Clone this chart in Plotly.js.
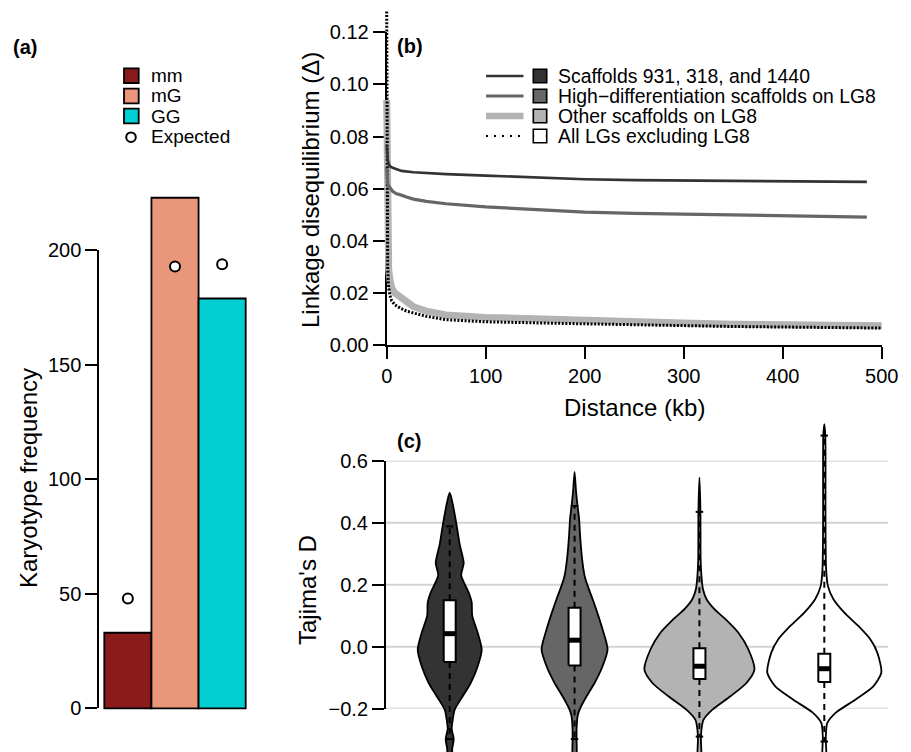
<!DOCTYPE html>
<html><head><meta charset="utf-8">
<script src="https://cdn.plot.ly/plotly-3.0.1.min.js"></script>
<style>html,body{margin:0;padding:0;background:#fff;}#chart{width:911px;height:752px;}</style>
</head><body><div id="chart"></div>
<script>
// ================= DATA =================
// (a) karyotype frequencies
const karyotypes = ['mm', 'mG', 'GG'];
const observedCounts = [33, 223, 179];
const expectedCounts = [48, 193, 194];

// (b) LD decay with distance (kb)
const distScaffolds = [0, 0.5, 1, 2, 3.3, 6, 10, 15, 27, 40, 60, 100, 150, 175, 200, 250, 300, 350, 400, 450, 485];
const ldScaffolds   = [0.077, 0.073, 0.071, 0.0695, 0.0686, 0.068, 0.0674, 0.0668, 0.0663, 0.066, 0.0656, 0.065, 0.0642, 0.0638, 0.0636, 0.0633, 0.0631, 0.0629, 0.0628, 0.0627, 0.0626];
const distHighDiff  = [0, 0.5, 1, 2, 3.3, 6, 10, 13.4, 20, 27, 40, 60, 100, 150, 200, 250, 300, 350, 400, 450, 485];
const ldHighDiff    = [0.068, 0.064, 0.062, 0.061, 0.0603, 0.059, 0.058, 0.0577, 0.0568, 0.056, 0.0551, 0.0542, 0.053, 0.0519, 0.051, 0.0505, 0.0502, 0.0499, 0.0496, 0.0493, 0.0491];
const distOther     = [0, 0.3, 0.6, 1, 1.5, 2, 3.3, 5, 8, 13.4, 20, 27, 40, 60, 100, 175, 250, 300, 350, 400, 450, 500];
const ldOther       = [0.094, 0.07, 0.05, 0.038, 0.032, 0.029, 0.025, 0.022, 0.020, 0.0186, 0.0163, 0.0147, 0.013, 0.0115, 0.0106, 0.0096, 0.0088, 0.0084, 0.008, 0.0078, 0.0076, 0.0074];
const distAllLG     = [0, 0.3, 0.6, 1, 1.5, 2, 3.3, 5, 8, 13.4, 20, 27, 40, 60, 100, 175, 250, 300, 350, 400, 450, 500];
const ldAllLG       = [0.128, 0.08, 0.045, 0.03, 0.025, 0.022, 0.019, 0.017, 0.0155, 0.0142, 0.013, 0.0122, 0.011, 0.0097, 0.0089, 0.0083, 0.0077, 0.0074, 0.0071, 0.0069, 0.0067, 0.0065];
const ldSeriesNames = ['Scaffolds 931, 318, and 1440', 'High\u2212differentiation scaffolds on LG8', 'Other scaffolds on LG8', 'All LGs excluding LG8'];

// (c) Tajima's D: violin outlines (value, relative density) and box statistics
const violin1D = [0.497, 0.456, 0.39, 0.33, 0.27, 0.23, 0.175, 0.143, 0.10, 0.045, -0.01, -0.063, -0.117, -0.16, -0.203, -0.236, -0.265, -0.298, -0.33, -0.37];
const violin1W = [0, 3.3, 7, 10, 14, 11.5, 19, 22, 22.5, 28, 32, 28, 21, 13, 5, 3, 2, 4, 2.5, 2];
const violin2D = [0.564, 0.50, 0.454, 0.413, 0.359, 0.283, 0.229, 0.197, 0.154, 0.110, 0.056, -0.009, -0.063, -0.117, -0.16, -0.203, -0.225, -0.268, -0.30, -0.37];
const violin2W = [0, 1.5, 3, 4.5, 5.5, 7.5, 10, 13, 18, 22.7, 28, 33, 28, 20, 12, 5, 3, 2, 2, 1.5];
const violin3D = [0.545, 0.435, 0.283, 0.229, 0.186, 0.154, 0.121, 0.089, 0.045, -0.009, -0.074, -0.117, -0.16, -0.203, -0.236, -0.268, -0.30, -0.37];
const violin3W = [0, 1, 1.2, 2, 3.5, 7, 15, 26, 39, 49, 55, 47, 31, 13, 4, 2, 1.5, 1.5];
const violin4D = [0.718, 0.681, 0.413, 0.251, 0.197, 0.154, 0.110, 0.067, 0.024, -0.019, -0.084, -0.128, -0.171, -0.214, -0.246, -0.29, -0.37];
const violin4W = [0, 1, 1.2, 1.8, 3.5, 9, 20, 34, 46, 53, 57, 49, 31, 11, 3, 1.5, 1.5];
const boxQ1      = [-0.049, -0.061, -0.104, -0.114];
const boxMedian  = [0.042, 0.021, -0.063, -0.071];
const boxQ3      = [0.150, 0.126, -0.005, -0.023];
const whiskerLow = [-0.298, -0.298, -0.290, -0.306];
const whiskerHigh= [0.388, 0.454, 0.435, 0.681];
const tajimaTicks = [-0.2, 0, 0.2, 0.4, 0.6];

// ================= STYLE / LAYOUT HELPERS =================
const W = 911, H = 752;
const FONT = 'Liberation Sans, Arial, Helvetica, sans-serif';
const px = v => v / W;
const py = v => 1 - v / H;
const xdom = (a, b) => [px(a), px(b)];
const ydom = (top, bottom) => [py(bottom), py(top)];
function extend(pA, pB, rA, rB, qA, qB) { const s = (rB - rA) / (pB - pA); return [rA + (qA - pA) * s, rA + (qB - pA) * s]; }

const barColors = ['#8B1A1A', '#E9967A', '#00CED1'];
const lineColors = ['#333333', '#666666', '#b3b3b3', '#000000'];
const violinFills = ['#333333', '#666666', '#b3b3b3', '#ffffff'];

const frameAxis = {
  showline: true, linecolor: 'black', linewidth: 2, ticks: 'outside', ticklen: 12, tickwidth: 2,
  tickcolor: 'black', tickfont: {family: FONT, size: 20, color: 'black'}, showgrid: false, zeroline: false, fixedrange: true
};
const hidden = {visible: false, fixedrange: true};

// ================= TRACES =================
const traces = [];
traces.push({type: 'scatter', x: [], y: [], xaxis: 'x', yaxis: 'y', hoverinfo: 'skip', showlegend: false});
traces.push({type: 'scatter', x: [], y: [], xaxis: 'x2', yaxis: 'y3', hoverinfo: 'skip', showlegend: false});
traces.push({type: 'scatter', x: [], y: [], xaxis: 'x4', yaxis: 'y5', hoverinfo: 'skip', showlegend: false});

// (a)
traces.push({type: 'bar', x: karyotypes, y: observedCounts, width: 1, xaxis: 'x', yaxis: 'y2',
  marker: {color: barColors, line: {color: 'black', width: 1.8}}, showlegend: false, hoverinfo: 'x+y'});
traces.push({type: 'scatter', mode: 'markers', x: karyotypes, y: expectedCounts, xaxis: 'x', yaxis: 'y2',
  marker: {symbol: 'circle', size: 10, color: 'white', line: {color: 'black', width: 2}}, showlegend: false});

// (b)
const ldSeries = [
  {x: distOther, y: ldOther, c: lineColors[2], w: 7, dash: 'solid', n: ldSeriesNames[2]},
  {x: distAllLG, y: ldAllLG, c: lineColors[3], w: 3, dash: '2px,1.6px', n: ldSeriesNames[3]},
  {x: distHighDiff, y: ldHighDiff, c: lineColors[1], w: 3.2, dash: 'solid', n: ldSeriesNames[1]},
  {x: distScaffolds, y: ldScaffolds, c: lineColors[0], w: 2.7, dash: 'solid', n: ldSeriesNames[0]}
];
ldSeries.forEach(s => traces.push({type: 'scatter', mode: 'lines', x: s.x, y: s.y, name: s.n, xaxis: 'x3', yaxis: 'y4',
  line: {color: s.c, width: s.w, dash: s.dash}, showlegend: false}));

// (c)
const violins = [[violin1D, violin1W], [violin2D, violin2W], [violin3D, violin3W], [violin4D, violin4W]];
const densScale = 1 / 124.87;   // relative density -> category units
const boxHalf = 0.048, capHalf = 0.03;
violins.forEach((v, i) => {
  const pos = i + 1, D = v[0], Wd = v[1];
  const xs = D.map((d, k) => pos + Wd[k] * densScale).concat(D.slice().reverse().map((d, k) => pos - Wd[Wd.length - 1 - k] * densScale));
  const ys = D.concat(D.slice().reverse());
  traces.push({type: 'scatter', mode: 'lines', x: xs, y: ys, fill: 'toself', fillcolor: violinFills[i],
    line: {color: 'black', width: 1.8, shape: 'spline', smoothing: 0.7}, xaxis: 'x4', yaxis: 'y6', showlegend: false, hoverinfo: 'skip'});
});
const wx = [], wy = [], bx = [], by = [], mx = [], my = [], cx = [], cy = [];
boxQ1.forEach((q1, i) => {
  const p = i + 1;
  wx.push(p, p, null, p, p, null); wy.push(boxQ3[i], whiskerHigh[i], null, q1, whiskerLow[i], null);
  bx.push(p - boxHalf, p + boxHalf, p + boxHalf, p - boxHalf, p - boxHalf, null); by.push(q1, q1, boxQ3[i], boxQ3[i], q1, null);
  mx.push(p - boxHalf, p + boxHalf, null); my.push(boxMedian[i], boxMedian[i], null);
  cx.push(p - capHalf, p + capHalf, null, p - capHalf, p + capHalf, null); cy.push(whiskerHigh[i], whiskerHigh[i], null, whiskerLow[i], whiskerLow[i], null);
});
traces.push({type: 'scatter', mode: 'lines', x: wx, y: wy, line: {color: 'black', width: 2, dash: '6px,5px'}, xaxis: 'x4', yaxis: 'y6', showlegend: false, hoverinfo: 'skip'});
traces.push({type: 'scatter', mode: 'lines', x: cx, y: cy, line: {color: 'black', width: 2}, xaxis: 'x4', yaxis: 'y6', showlegend: false, hoverinfo: 'skip'});
traces.push({type: 'scatter', mode: 'lines', x: bx, y: by, fill: 'toself', fillcolor: 'white', line: {color: 'black', width: 2}, xaxis: 'x4', yaxis: 'y6', showlegend: false, hoverinfo: 'skip'});
traces.push({type: 'scatter', mode: 'lines', x: mx, y: my, line: {color: 'black', width: 5}, xaxis: 'x4', yaxis: 'y6', showlegend: false, hoverinfo: 'skip'});

// ================= LAYOUT =================
const shapes = [], annotations = [];
function txt(t, x, y, opts) {
  annotations.push(Object.assign({text: t, x: px(x), y: py(y), xref: 'paper', yref: 'paper', showarrow: false,
    xanchor: 'left', yanchor: 'middle', font: {family: FONT, size: 19, color: 'black'}}, opts || {}));
}
const boldFont = {family: FONT, size: 20, color: 'black'};
txt('<b>(a)</b>', 11, 47, {font: boldFont});
txt('<b>(b)</b>', 395, 46, {font: boldFont});
txt('<b>(c)</b>', 395, 441, {font: boldFont});
const titleFont = {family: FONT, size: 24, color: 'black'};
txt('Karyotype frequency', 29, 478, {xanchor: 'center', textangle: -90, font: titleFont});
txt('Linkage disequilibrium (\u0394)', 311, 190, {xanchor: 'center', textangle: -90, font: titleFont});
txt('Distance (kb)', 634, 407, {xanchor: 'center', font: titleFont});
txt("Tajima's D", 307, 590, {xanchor: 'center', textangle: -90, font: titleFont});

// gridlines of panel (c)
tajimaTicks.forEach(t => shapes.push({type: 'line', layer: 'below', xref: 'paper', yref: 'y5', x0: px(386), x1: px(888), y0: t, y1: t,
  line: {color: '#d3d3d3', width: 2}}));

// legend (a)
const legA = [75.7, 96, 116];
karyotypes.forEach((k, i) => {
  shapes.push({type: 'rect', xref: 'paper', yref: 'paper', x0: px(124), x1: px(138.7), y0: py(legA[i] + 7.3), y1: py(legA[i] - 7.3),
    fillcolor: barColors[i], line: {color: 'black', width: 1.8}});
  txt(k, 149, legA[i]);
});
shapes.push({type: 'circle', xref: 'paper', yref: 'paper', x0: px(126.2), x1: px(135.8), y0: py(142), y1: py(132.4),
  fillcolor: 'white', line: {color: 'black', width: 2}});
txt('Expected', 149, 137);

// legend (b)
const legB = [76, 96, 116, 136];
const legLine = [{c: lineColors[0], w: 2.7, d: 'solid'}, {c: lineColors[1], w: 3.2, d: 'solid'}, {c: lineColors[2], w: 6.5, d: 'solid'}, {c: 'black', w: 2, d: '2px,6px'}];
legB.forEach((y, i) => {
  shapes.push({type: 'line', xref: 'paper', yref: 'paper', x0: px(486), x1: px(523.5), y0: py(y), y1: py(y),
    line: {color: legLine[i].c, width: legLine[i].w, dash: legLine[i].d}});
  shapes.push({type: 'rect', xref: 'paper', yref: 'paper', x0: px(533.3), x1: px(546.7), y0: py(y + 6.7), y1: py(y - 6.7),
    fillcolor: violinFills[i], line: {color: 'black', width: 1.6}});
  txt(ldSeriesNames[i], 556, y, {font: {family: FONT, size: 19.4, color: 'black'}});
});

const layout = {
  width: W, height: H, margin: {l: 0, r: 0, t: 0, b: 0, pad: 0},
  paper_bgcolor: 'white', plot_bgcolor: 'rgba(0,0,0,0)', showlegend: false,
  font: {family: FONT, color: 'black'},
  xaxis: Object.assign({}, hidden, {type: 'category', domain: xdom(99.3, 250), range: extend(104.3, 245.7, -0.5, 2.5, 99.3, 250), anchor: 'y'}),
  yaxis: Object.assign({}, frameAxis, {domain: ydom(250.4, 708.3), range: [0, 200], tickvals: [0, 50, 100, 150, 200], anchor: 'x'}),
  yaxis2: Object.assign({}, hidden, {domain: ydom(140, 712), range: extend(708.3, 250.4, 0, 200, 712, 140), anchor: 'x'}),
  xaxis2: Object.assign({}, frameAxis, {domain: xdom(386.7, 881.7), range: [0, 500], tickvals: [0, 100, 200, 300, 400, 500], anchor: 'y3'}),
  yaxis3: Object.assign({}, frameAxis, {domain: ydom(32.3, 345), range: [0, 0.12], tickvals: [0, 0.02, 0.04, 0.06, 0.08, 0.10, 0.12], tickformat: '.2f', anchor: 'x2'}),
  xaxis3: Object.assign({}, hidden, {domain: xdom(376, 892), range: extend(386.7, 881.7, 0, 500, 376, 892), anchor: 'y4'}),
  yaxis4: Object.assign({}, hidden, {domain: ydom(4, 352), range: extend(345, 32.3, 0, 0.12, 352, 4), anchor: 'x3'}),
  xaxis4: {domain: xdom(386, 888), range: extend(449.7, 824.3, 1, 4, 386, 888), anchor: 'y5', showline: false, showgrid: false,
    zeroline: false, ticks: '', showticklabels: false, fixedrange: true},
  yaxis5: Object.assign({}, frameAxis, {domain: ydom(460.7, 708.7), range: [-0.2, 0.6], tickvals: tajimaTicks, tickformat: '.1f', anchor: 'x4'}),
  yaxis6: Object.assign({}, hidden, {domain: ydom(415, 752), range: extend(708.7, 460.7, -0.2, 0.6, 752, 415), anchor: 'x4'}),
  shapes: shapes, annotations: annotations
};

Plotly.newPlot('chart', traces, layout, {displayModeBar: false, staticPlot: true});
</script></body></html>
